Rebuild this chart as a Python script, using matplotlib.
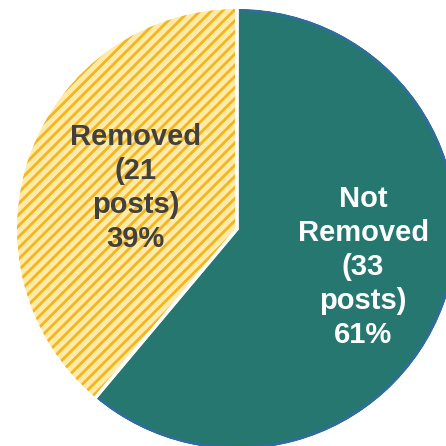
import matplotlib.pyplot as plt
import numpy as np

# datos del grafico
categorias = ['Not\nRemoved', 'Removed']
posts = [33, 21]
colores = ['#25776F', '#FFEAAA']
colores_texto = ['white', '#404040']

plt.rcParams['font.family'] = ['Liberation Sans', 'DejaVu Sans']
plt.rcParams['hatch.linewidth'] = 2.0

fig = plt.figure(figsize=(4.46, 4.46), dpi=100)
ax = fig.add_axes([0, 0, 1, 1])

centro = (237, 217)
radio = 220

# relleno (hatch del color del borde)
wedges, _ = ax.pie(posts, colors=colores, startangle=90, counterclock=False,
                   center=centro, radius=radio,
                   wedgeprops={'linewidth': 0, 'edgecolor': '#F6B51A'})
wedges[1].set_hatch('///')

# borde azulado del sector verde
ax.pie(posts, colors=['#2F6E98', 'none'], startangle=90, counterclock=False,
       center=centro, radius=radio,
       wedgeprops={'width': 3, 'linewidth': 0})

# separadores blancos
ax.pie(posts, colors=['none', 'none'], startangle=90, counterclock=False,
       center=centro, radius=radio + 2,
       wedgeprops={'linewidth': 2.4, 'edgecolor': 'white'})

total = sum(posts)
distancias = [0.61, 0.49]
desplaz_y = [8, 4]
for w, cat, n, col, d, dy in zip(wedges, categorias, posts, colores_texto,
                                 distancias, desplaz_y):
    ang = np.deg2rad((w.theta1 + w.theta2) / 2)
    x = centro[0] + d * radio * np.cos(ang)
    y = centro[1] + d * radio * np.sin(ang) + dy
    ax.text(x, y, f'{cat}\n({n}\nposts)\n{n / total * 100:.0f}%',
            ha='center', va='center', fontsize=21, fontweight='bold',
            color=col, linespacing=1.27)

ax.set_xlim(0, 446)
ax.set_ylim(0, 446)
ax.set_aspect('equal')
ax.axis('off')

plt.savefig('out.png', dpi=100)
